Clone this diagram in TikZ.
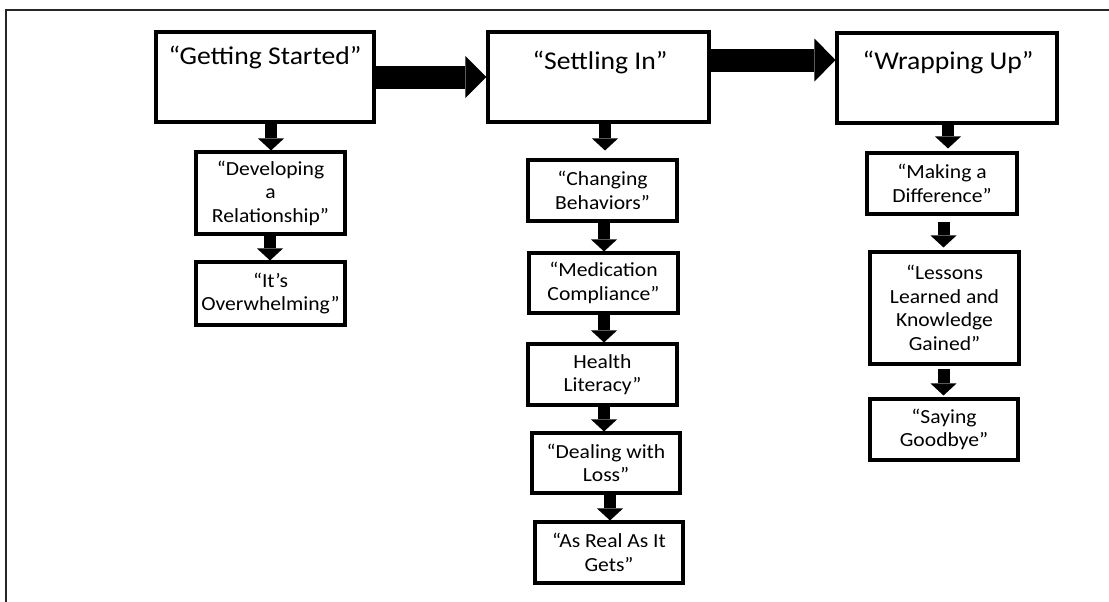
\documentclass[tikz,border=0pt]{standalone}
\usepackage{fontspec}
\setmainfont[FakeStretch=1.08]{Carlito}
\usetikzlibrary{arrows.meta,shadows}
\newdimen\px \px=0.75pt
\begin{document}
\begin{tikzpicture}[x=0.75pt,y=-0.75pt,
  shad/.style={drop shadow={shadow xshift=1.5pt,shadow yshift=-1.5pt,opacity=0.15,fill=black}},
  box/.style={rectangle,draw=black,line width=2.3pt,fill=white,inner sep=0pt,align=center,
    font=\fontsize{15}{17.6}\selectfont,minimum width=149\px,minimum height=61\px,shad},
  bigbox/.style={box,minimum width=219\px,minimum height=90\px},
  title/.style={anchor=base,font=\fontsize{19.2}{22}\selectfont,inner sep=0pt},
  darr/.style={line width=9pt,-{Triangle[length=9pt,width=19.5pt,line width=0pt]}},
  bigarr/.style={line width=17.25pt,-{Triangle[length=15.75pt,width=31.5pt,line width=0pt]}}]
\useasboundingbox (0,0) rectangle (1109,601);
\fill[white] (0,0) rectangle (1109,601);
% frame
\draw[line width=1.6pt,black!85] (6,605) -- (6,10) -- (1113,10);
% top boxes
\node[bigbox,minimum width=218\px,label={[title,yshift=-34.5\px]north:“Getting Started”}] (gs) at (265,77) {};
\node[bigbox,minimum width=221\px,label={[title,xshift=1.5\px,yshift=-39.5\px]north:“Settling In”}] (si) at (598.5,77) {};
\node[bigbox,minimum width=220\px,label={[title,xshift=1\px,yshift=-38.5\px]north:“Wrapping Up”}] (wu) at (947,78) {};
% column 1
\node[box,minimum height=82\px] (dev) at (270.5,193) {“Developing\\a\\Relationship”};
\node[box,minimum height=63\px] (it) at (270.5,293.5) {“It’s\\Overwhelming”};
% column 2
\node[box] (ch) at (602.5,190.5) {“Changing\\Behaviors”};
\node[box,minimum height=60\px] (med) at (603.5,283) {“Medication\\Compliance”};
\node[box] (hl) at (602.5,374.5) {Health\\Literacy”};
\node[box,minimum width=148\px,minimum height=60\px] (dl) at (606,463) {“Dealing with\\Loss”};
\node[box,minimum width=148\px] (ar) at (609,552.5) {“As Real As It\\Gets”};
% column 3
\node[box,minimum width=150\px] (mk) at (942,183.5) {“Making a\\Difference”};
\node[box,minimum height=112\px] (ls) at (944.5,308) {“Lessons\\Learned and\\Knowledge\\Gained”};
\node[box,minimum width=148\px] (sy) at (944,429.5) {“Saying\\Goodbye”};
% arrow columns
\coordinate (c1) at (271,0);
\coordinate (c1b) at (270,0);
\coordinate (c2) at (605,0);
\coordinate (c2b) at (604,0);
\coordinate (c2c) at (610,0);
\coordinate (c3) at (948,0);
\coordinate (c3b) at (943.5,0);
\coordinate (r2) at (0,60);
% big arrows
\draw[bigarr] (gs.east) -- (si.west);
\draw[bigarr,-{Triangle[length=15.75pt,width=32.25pt,line width=0pt]}] (si.east |- r2) -- (wu.west |- r2);
% down arrows
\draw[darr] (gs.south -| c1) -- (dev.north -| c1);
\draw[darr] (dev.south -| c1b) -- (it.north -| c1b);
\draw[darr,shorten >=8\px] (si.south -| c2) -- (ch.north -| c2);
\draw[darr] (ch.south -| c2b) -- (med.north -| c2b);
\draw[darr] (med.south -| c2b) -- (hl.north -| c2b);
\draw[darr] (hl.south -| c2b) -- (dl.north -| c2b);
\draw[darr] (dl.south -| c2c) -- (ar.north -| c2c);
\draw[darr,shorten >=3\px] (wu.south -| c3) -- (mk.north -| c3);
\draw[darr,shorten <=6\px,shorten >=3\px] (mk.south -| c3b) -- (ls.north -| c3b);
\draw[darr,shorten <=3\px,shorten >=2\px] (ls.south -| c3b) -- (sy.north -| c3b);
\end{tikzpicture}
\end{document}
